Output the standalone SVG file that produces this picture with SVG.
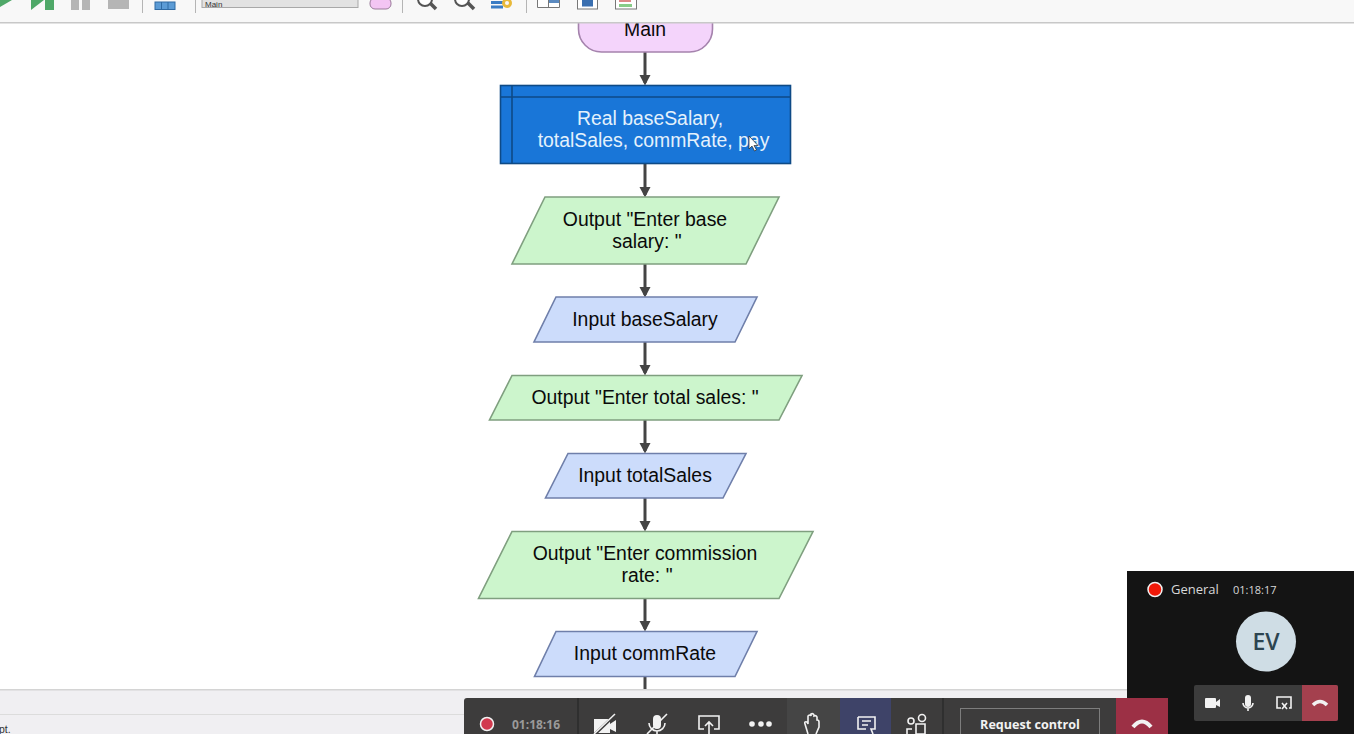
<svg xmlns="http://www.w3.org/2000/svg" width="1354" height="734" viewBox="0 0 1354 734">
<style>
text{font-family:"Liberation Sans",Arial,sans-serif}
.t{font-size:19.400px;fill:#0a0a0a;text-anchor:middle}
.out{fill:#ccf5cc;stroke:#7f9f7f;stroke-width:1.600}
.inp{fill:#ccdcfb;stroke:#6f7faa;stroke-width:1.600}
.c{stroke:#444;stroke-width:3;fill:none;marker-end:url(#a)}
.ui{font-family:"Open Sans","Liberation Sans",sans-serif}
.ic{fill:none;stroke:#f2f2f2;stroke-width:1.600}
.sep{stroke:#b5b5b5;stroke-width:1}
</style>
<defs><marker id="a" markerUnits="userSpaceOnUse" markerWidth="12" markerHeight="12" refX="8" refY="5.500" orient="auto"><path d="M0 0L10.500 5.500L0 11Z" fill="#444"/></marker></defs>
<rect width="1354" height="734" fill="#fff"/>
<g id="connectors">
<line class="c" x1="645" y1="52" x2="645" y2="83"/>
<line class="c" x1="645" y1="164" x2="645" y2="195"/>
<line class="c" x1="645" y1="264" x2="645" y2="295"/>
<line class="c" x1="645" y1="342" x2="645" y2="373"/>
<line class="c" x1="645" y1="420" x2="645" y2="451"/>
<line class="c" x1="645" y1="498" x2="645" y2="529"/>
<line class="c" x1="645" y1="598" x2="645" y2="629"/>
<line x1="645" y1="676" x2="645" y2="692" stroke="#444" stroke-width="3"/>
</g>
<g id="main"><rect x="578.500" y="-5" width="134" height="57" rx="23" fill="#f4d4fb" stroke="#a583ad" stroke-width="1.600"/><text class="t" x="645" y="36">Main</text></g>
<g id="declare">
<rect x="500.500" y="85.500" width="290" height="78" fill="#1976d8" stroke="#0e4a86" stroke-width="1.600"/>
<path d="M500.500 97H790.500M512 85.500V163.500" stroke="#0e4a86" stroke-width="1.600" fill="none"/>
<text class="t" style="fill:#e4f1fc" x="650" y="124.500">Real baseSalary,</text>
<text class="t" style="fill:#e4f1fc" x="653.500" y="146.500">totalSales, commRate, pay</text>
<path d="M749 136V149L752 146L754.500 151L756.500 150L754 145.500H758Z" fill="#fff" stroke="#222" stroke-width=".7"/>
</g>
<g id="out1"><polygon class="out" points="545,197 779,197 746,264 512,264"/><text class="t" x="645" y="225.500">Output "Enter base</text><text class="t" x="647" y="247.500">salary: "</text></g>
<g id="in1"><polygon class="inp" points="556,297 757,297 735,342 534,342"/><text class="t" x="645" y="325.500">Input baseSalary</text></g>
<g id="out2"><polygon class="out" points="512,375.500 802,375.500 779,420 489.500,420"/><text class="t" x="645" y="403.500">Output "Enter total sales: "</text></g>
<g id="in2"><polygon class="inp" points="568,453.500 746,453.500 723,498 545.500,498"/><text class="t" x="645" y="481.500">Input totalSales</text></g>
<g id="out3"><polygon class="out" points="512,531.500 813,531.500 779,598.500 478.500,598.500"/><text class="t" x="645" y="559.500">Output "Enter commission</text><text class="t" x="647" y="581.500">rate: "</text></g>
<g id="in3"><polygon class="inp" points="556,631.500 757,631.500 735,676.500 534.500,676.500"/><text class="t" x="645" y="659.500">Input commRate</text></g>
<g id="toolbar">
<rect width="1354" height="22.500" fill="#f8f8f8"/>
<rect y="22" width="1354" height="1.500" fill="#c8c8c8"/>
<path d="M0 0H12L0 7Z" fill="#4fa868"/>
<path d="M31 0V10L44 0Z" fill="#4fa868"/><rect x="45" y="0" width="9" height="10" fill="#4fa868"/>
<rect x="71" y="0" width="8" height="10" fill="#b5b5b5"/><rect x="82" y="0" width="8" height="10" fill="#b5b5b5"/>
<rect x="108" y="0" width="21" height="9" fill="#b5b5b5"/>
<line class="sep" x1="142.500" y1="0" x2="142.500" y2="13"/>
<rect x="155" y="2" width="20" height="7.500" fill="#5b9bd5" stroke="#2f6aa3"/>
<path d="M161.500 2V9.500M168 2V9.500" stroke="#2f6aa3"/>
<line class="sep" x1="195.500" y1="0" x2="195.500" y2="13"/>
<rect x="202" y="-1" width="156" height="8.500" fill="#e2e2e2" stroke="#a8a8a8"/>
<text x="205" y="6.500" font-size="8" fill="#333">Main</text>
<rect x="370" y="-2" width="21" height="11" rx="5" fill="#f3c5f3" stroke="#9a7a9a"/>
<line class="sep" x1="402.500" y1="0" x2="402.500" y2="13"/>
<circle cx="425" cy="-1" r="7" fill="#fff" stroke="#555" stroke-width="2"/><path d="M430 3L436 9" stroke="#555" stroke-width="3.500"/>
<circle cx="462" cy="-1" r="7" fill="#fff" stroke="#555" stroke-width="2"/><path d="M468 3L474 9" stroke="#555" stroke-width="3.500"/>
<rect x="491" y="1" width="12" height="3" fill="#3a7cc4"/><rect x="491" y="5.500" width="12" height="3" fill="#3a7cc4"/><circle cx="507" cy="3" r="5" fill="#e8b93a"/><circle cx="507" cy="3" r="2" fill="#f8f8f8"/>
<line class="sep" x1="526.500" y1="0" x2="526.500" y2="13"/>
<path d="M537.500 -1H559.500V7.500H537.500ZM548.500 -1V7.500" fill="#fff" stroke="#777"/><rect x="549" y="0" width="10" height="3" fill="#5b8ac0"/>
<rect x="577.500" y="-1" width="20" height="10" fill="#fff" stroke="#777"/><rect x="582" y="0" width="11" height="6.500" fill="#3a6fb0"/>
<rect x="615.500" y="-1" width="21" height="10" fill="#fff" stroke="#777"/><rect x="619" y="0" width="12" height="2" fill="#d88"/><rect x="619" y="4" width="13" height="3" fill="#8c8"/>
</g>
<g id="status">
<rect y="690" width="1127" height="44" fill="#f0eff2"/>
<rect y="689" width="1127" height="1.500" fill="#d4d4d4"/>
<rect y="714" width="470" height="1" fill="#dcdcdc"/>
<text x="-1" y="732.500" font-size="10.500" fill="#333">pt.</text>
</g>
<g id="callbar">
<rect x="464" y="698" width="664" height="40" rx="3" fill="#3d3c3c"/>
<line x1="578" y1="698" x2="578" y2="734" stroke="#222"/>
<line x1="943" y1="698" x2="943" y2="734" stroke="#222"/>
<rect x="787" y="698" width="53" height="36" fill="#454545"/>
<rect x="840" y="698" width="51" height="36" fill="#3e4368"/>
<circle cx="487" cy="724" r="6.500" fill="#d13a4e" stroke="#f2f2f2" stroke-width="1.500"/>
<text class="ui" x="512" y="729" font-size="12" font-weight="700" fill="#9a9a9a">01:18:16</text>
<path d="M594 719H610V733H594Z" fill="#f2f2f2"/><path d="M610 724L616 720V732L610 729Z" fill="#f2f2f2"/><path d="M595 734L616 714" stroke="#3d3c3c" stroke-width="3"/><path d="M594 734L615 714" stroke="#f2f2f2" stroke-width="1.500"/>
<rect x="653" y="715" width="8" height="14" rx="4" fill="#f2f2f2"/><path d="M649 723a8 8 0 0 0 16 0M657 731V734M647 734L667 714" class="ic"/>
<path d="M704 729H699V716H719V729H714M709 734V722M705 726L709 722L713 726" class="ic"/>
<circle cx="752" cy="724" r="2.800" fill="#f2f2f2"/><circle cx="761" cy="724" r="2.800" fill="#f2f2f2"/><circle cx="769" cy="724" r="2.800" fill="#f2f2f2"/>
<path d="M808 734L805 724Q804 721 807 722L808 724V716Q810 714 811 716V714Q813 713 814 715V716Q816 715 817 717V720Q819 720 819 722V727L816 734" class="ic"/>
<path d="M858 717H875V729H871L873 734M858 717V729H866M862 721H871M862 725H868" class="ic"/>
<circle cx="922" cy="718" r="3.500" class="ic"/><circle cx="911" cy="721" r="3" class="ic"/><path d="M916 724H925V734H916ZM907 734V729H912" class="ic"/>
<rect x="960.500" y="708.500" width="139" height="30" fill="none" stroke="#7d7d7d"/>
<text class="ui" x="1030" y="729" font-size="12.600" font-weight="700" fill="#f2f2f2" text-anchor="middle">Request control</text>
</g>
<g id="callwin">
<rect x="1127" y="571" width="227" height="163" fill="#141414"/>
<circle cx="1155" cy="589.500" r="7" fill="#f01808" stroke="#f2f2f2" stroke-width="1.500"/>
<text class="ui" x="1171" y="594" font-size="13" fill="#d8d8d8">General</text>
<text class="ui" x="1233" y="594" font-size="11" fill="#d8d8d8">01:18:17</text>
<circle cx="1266" cy="641.500" r="30" fill="#cfdde5"/>
<text class="ui" x="1266" y="650" font-size="23" font-weight="600" fill="#2c4450" text-anchor="middle">EV</text>
<rect x="1194" y="685" width="144" height="36" rx="2" fill="#3c3c3c"/>
<path d="M1302 685H1336a2 2 0 0 1 2 2V719a2 2 0 0 1-2 2H1302Z" fill="#a4404e"/>
<rect x="1205" y="698" width="11" height="10" rx="1" fill="#f2f2f2"/><path d="M1216 702L1220 699V707L1216 705Z" fill="#f2f2f2"/>
<rect x="1245" y="695" width="6" height="12" rx="3" fill="#f2f2f2"/><path d="M1243 703a5 5 0 0 0 10 0M1248 708V711" class="ic" stroke-width="1"/>
<path d="M1281 708H1277V697H1291V708H1289" class="ic" stroke-width="1.200"/><path d="M1282 703L1287 709M1287 703L1282 709" class="ic"/>
<path d="M1313 705Q1320 698 1327 705" fill="none" stroke="#f2f2f2" stroke-width="3.500"/>
<path d="M1116 698H1168V734H1116Z" fill="#9c3045"/>
<path d="M1133 727Q1142 716 1151 727" fill="none" stroke="#f2f2f2" stroke-width="4"/>
</g>
</svg>
